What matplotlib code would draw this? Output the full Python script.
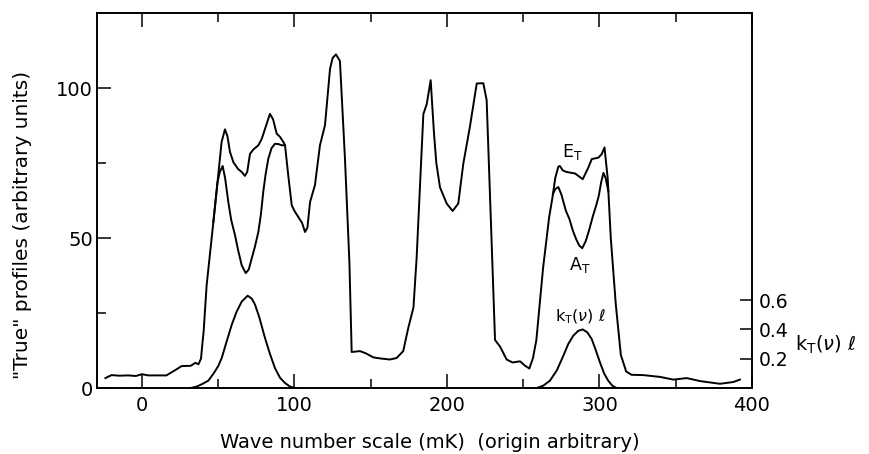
import matplotlib
matplotlib.use("Agg")
import matplotlib.pyplot as plt
from matplotlib.ticker import MultipleLocator, FixedLocator

plt.rcParams['font.family'] = ['DejaVu Sans']
plt.rcParams['mathtext.fontset'] = 'dejavusans'

# ---- data ----
# E_T profile (wave number in mK, arbitrary units)
e_x = [-24, -20, -15, -9, -4, 0, 4, 10, 16, 21.6, 26, 32, 35, 37, 38.7, 39.5, 40.4,
       42.4, 46.8, 50, 52.2, 54.4, 56, 57.7, 59.9, 63, 65.4, 67.5, 69, 70.8, 73,
       76.3, 78.5, 80.7, 83.9, 86, 88.3, 90.5, 92.7, 93.8, 95.9, 98.2, 100, 102.5,
       105, 106.9, 108.5, 110.2, 113.4, 116.7, 120, 123.3, 125, 127.2, 129.8, 133.1,
       136, 137.5, 143, 147, 151.7, 157, 162.6, 167, 171.3, 174.6, 178, 180.1, 184.5,
       186.7, 189.3, 191.5, 193, 195.4, 199.8, 203.7, 207.4, 210.7, 215, 219.5, 223.8,
       226, 228.6, 231.5, 234.8, 239.1, 243, 247.9, 251, 254, 256.4, 258.6, 260.8,
       263, 265, 267, 269, 271, 273, 274, 276, 278.5, 284, 289, 292.7, 294.9, 299.3,
       301.5, 303.3, 305.4, 307.4, 310.7, 314, 317.5, 321, 328.7, 339.7, 348.4, 357.2,
       366, 379, 387.8, 392.1]
e_y = [3.3, 4.3, 4.1, 4.2, 4.0, 4.6, 4.2, 4.2, 4.2, 5.9, 7.3, 7.4, 8.4, 7.9, 9.8, 14.2, 18.7,
       34.3, 55.3, 71, 82, 86.2, 84, 78.7, 75.3, 73, 72, 70.7, 72, 78, 79.5,
       80.9, 83, 86.4, 91.4, 89.5, 84.8, 83.7, 82, 80.9, 70.9, 60.9, 59, 57,
       55, 52, 53.5, 62, 67.6, 80.9, 87.6, 106.4, 110, 111.2, 109, 76.4,
       42, 12, 12.3, 11.5, 10.2, 9.8, 9.5, 10, 12.3, 20, 26.8, 43.5, 91.3,
       94.6, 102.6, 84.7, 75, 66.9, 61.5, 59, 61.5, 74.8, 87, 101.5, 101.6,
       96, 58.3, 16, 13.8, 9.5, 8.5, 8.9, 7.5, 6.5, 10, 16, 28,
       40, 48.5, 57, 63, 70, 73.8, 74, 72.5, 72.0, 71.5, 69.6, 73.5, 76.3, 76.8,
       78, 80.2, 69.7, 50, 27.8, 11, 5.5, 4.4, 4.3, 3.7, 2.8, 3.3,
       2.3, 1.4, 2.0, 2.8]

# A_T profile (only where it departs from E_T)
a1_x = [46.8, 49.5, 51, 52.9, 54.5, 56.6, 58.5, 61, 63, 65.4, 68, 70, 71.9, 74, 76.3,
        78, 79.5, 81, 82.8, 85, 87.2, 89.5, 91.6, 93.8]
a1_y = [55.3, 68.5, 72, 74, 70, 62, 56, 50.9, 46, 40.9, 38.3, 39.5, 43.1, 47, 52,
        58, 65.3, 71, 76.4, 80, 81.4, 81.3, 80.9, 80.9]
a2_x = [269.5, 271, 273, 275, 278, 280.3, 282.5, 284.7, 286.7, 288.7, 291, 293.4,
        295.5, 297.8, 299.5, 301.1, 302.6, 304, 305.8]
a2_y = [64.7, 66.3, 67, 64.5, 59, 56.3, 52.5, 49.6, 47.5, 46.6, 49, 53,
        57, 60.8, 64, 68.6, 71.7, 70, 65.6]

# k_T(nu) l absorption coefficient curves (right axis)
k1_x = [32, 36, 40, 43.5, 47, 50, 52.3, 55, 58.8, 62, 65.4, 69.3, 72, 74.1, 77,
        80.7, 84, 87.2, 90.5, 93.8, 97, 100.3]
k1_y = [0.0, 0.01, 0.03, 0.05, 0.1, 0.15, 0.205, 0.3, 0.43, 0.52, 0.59, 0.63, 0.61,
        0.57, 0.48, 0.34, 0.23, 0.136, 0.07, 0.034, 0.01, 0.0]
k2_x = [258.8, 263, 267.5, 272, 276.3, 279.5, 282.8, 286, 289, 292, 294.9, 297.5,
        300.3, 303, 305.7, 308.5, 311.2]
k2_y = [0.0, 0.015, 0.05, 0.12, 0.22, 0.3, 0.357, 0.39, 0.40, 0.38, 0.334, 0.26,
        0.175, 0.1, 0.05, 0.015, 0.0]

x_ticks = [0, 100, 200, 300, 400]
y_ticks = [0, 50, 100]
k_ticks = [0.2, 0.4, 0.6]

# ---- figure ----
fig = plt.figure(figsize=(8.69, 4.54), dpi=100)
ax = fig.add_axes([97 / 869, 1 - 388 / 454, 655 / 869, 375 / 454])
ax2 = ax.twinx()

lw = 1.4
ax.plot(e_x, e_y, color='black', lw=lw)
ax.plot(a1_x, a1_y, color='black', lw=lw)
ax.plot(a2_x, a2_y, color='black', lw=lw)
ax2.plot(k1_x, k1_y, color='black', lw=lw)
ax2.plot(k2_x, k2_y, color='black', lw=lw)

ax.set_xlim(-29.5, 400)
ax.set_ylim(0, 125)
ax2.set_ylim(0, 2.56)

ax.xaxis.set_major_locator(FixedLocator(x_ticks))
ax.xaxis.set_minor_locator(MultipleLocator(50))
ax.yaxis.set_major_locator(FixedLocator(y_ticks))
ax.yaxis.set_minor_locator(FixedLocator([25, 75]))
ax.tick_params(axis='x', which='major', direction='in', length=10, width=1.1,
               top=True, bottom=True, labelsize=14, pad=6)
ax.tick_params(axis='x', which='minor', direction='in', length=6.5, width=1.1,
               top=True, bottom=True)
ax.tick_params(axis='y', which='major', direction='in', length=10, width=1.1,
               left=True, right=False, labelsize=14, pad=3)
ax.tick_params(axis='y', which='minor', direction='in', length=6.5, width=1.1,
               left=True, right=False)

ax2.yaxis.set_major_locator(FixedLocator(k_ticks))
ax2.set_yticklabels([f"{t:.1f}" for t in k_ticks])
ax2.tick_params(axis='y', which='major', direction='in', length=9, width=1.1,
                labelsize=13.5, pad=5)

for sp in list(ax.spines.values()) + list(ax2.spines.values()):
    sp.set_linewidth(1.2)

ax.set_xlabel("Wave number scale (mK)  (origin arbitrary)", fontsize=14)
ax.xaxis.set_label_coords(0.508, -(442 - 388) / 375)
ax.xaxis.label.set_va('center')
ax.set_ylabel('"True" profiles (arbitrary units)', fontsize=14.5)
ax.yaxis.set_label_coords(-0.113, 0.435)
ax.yaxis.label.set_va('center')

ax2.set_ylabel(r'k$_\mathregular{T}$($\nu$) $\ell$', fontsize=14, rotation=0,
               ha='left', va='center')
ax2.yaxis.set_label_coords(1.066, 0.115)

ax.text(282.2, 78.7, r'E$_\mathregular{T}$', fontsize=12.5, ha='center', va='center')
ax.text(287.2, 40.9, r'A$_\mathregular{T}$', fontsize=12.5, ha='center', va='center')
ax.text(287.2, 23.7, r'k$_\mathregular{T}$($\nu$) $\ell$', fontsize=11.5,
        ha='center', va='center')

fig.savefig("out.png", dpi=100)
